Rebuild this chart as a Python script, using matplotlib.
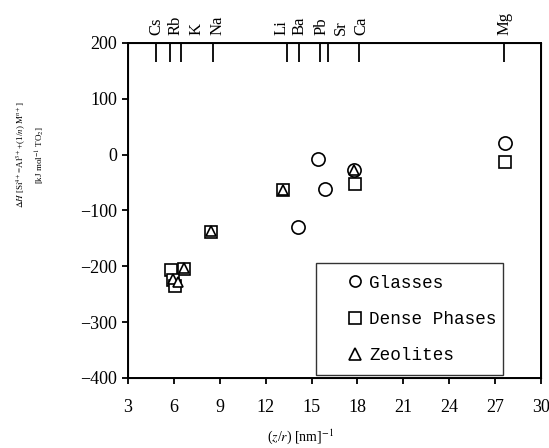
import matplotlib
matplotlib.use("Agg")
import matplotlib.pyplot as plt

plt.rcParams["font.family"] = ["Liberation Serif", "DejaVu Serif"]
plt.rcParams["mathtext.fontset"] = "stix"

# cation positions on the top axis (tick) and where their names sit
ions = ["Cs", "Rb", "K", "Na", "Li", "Ba", "Pb", "Sr", "Ca", "Mg"]
ion_x = [4.81, 5.77, 6.44, 8.55, 13.39, 14.18, 15.52, 16.06, 18.07, 27.6]
ion_label_x = [4.84, 6.09, 7.46, 8.86, 13.06, 14.21, 15.68, 16.93, 18.23, 27.62]

# enthalpy data
glass_x = [14.1, 15.45, 15.85, 17.8, 27.65]
glass_y = [-130, -7, -62, -27, 20]
dense_x = [5.8, 6.65, 5.95, 6.1, 8.45, 13.1, 17.85, 27.65]
dense_y = [-207, -205, -225, -235, -139, -63, -52, -13]
zeo_x = [6.65, 5.95, 6.25, 8.45, 13.1, 17.8]
zeo_y = [-203, -223, -228, -136, -63, -28]

xticks = [3, 6, 9, 12, 15, 18, 21, 24, 27, 30]
yticks = [-400, -300, -200, -100, 0, 100, 200]

fig = plt.figure(figsize=(5.49, 4.48), dpi=100)
ax = fig.add_axes([0.2332, 0.1563, 0.7523, 0.7478])

mk = dict(linestyle="none", markerfacecolor="white", markeredgecolor="black",
          markeredgewidth=1.2)
ax.plot(glass_x, glass_y, marker="o", markersize=9.5, label="Glasses", **mk)
ax.plot(dense_x, dense_y, marker="s", markersize=9, label="Dense Phases", **mk)
ax.plot(zeo_x, zeo_y, marker="^", markersize=7, label="Zeolites", **mk)

ax.set_xlim(3, 30)
ax.set_ylim(-400, 200)
ax.set_xticks(xticks)
ax.set_yticks(yticks)
ax.set_yticklabels([f"{v:d}".replace("-", "\u2212") for v in yticks])
ax.tick_params(direction="out", length=4, width=1.3, labelsize=13)
ax.tick_params(axis="x", pad=11)
ax.tick_params(axis="y", pad=4)
for s in ax.spines.values():
    s.set_linewidth(1.4)

ax.set_xlabel(r"($z$/$r$) [nm]$^{-1}$", fontsize=10)
ax.xaxis.set_label_coords(0.417, -0.148)
ax.set_ylabel("$\\Delta H$ [Si$^{4+}$=Al$^{3+}$+(1/$n$) M$^{n+}$]\n"
              "[kJ mol$^{-1}$ TO$_2$]", fontsize=6.5, linespacing=1.6)
ax.yaxis.set_label_coords(-0.196, 0.666)

top = ax.twiny()
top.set_xlim(ax.get_xlim())
top.set_xticks(ion_x)
top.set_xticklabels([])
top.tick_params(direction="in", length=14, width=1.3)
for name, lx in zip(ions, ion_label_x):
    ax.annotate(name, xy=(lx, 1), xycoords=("data", "axes fraction"),
                xytext=(0, 6), textcoords="offset points", rotation=90,
                ha="center", va="bottom", fontsize=12)

leg = ax.legend(loc="upper left", bbox_to_anchor=(0.454, 0.018, 0.453, 0.324),
                mode="expand", borderaxespad=0,
                prop={"family": "Liberation Mono", "size": 12.7},
                frameon=True, fancybox=False, edgecolor="black",
                handlelength=3.26, handletextpad=-0.86, labelspacing=1.1,
                borderpad=0.63)
leg.get_frame().set_linewidth(1.0)
for h in leg.legend_handles:
    h.set_markersize(8)

fig.savefig("out.png", dpi=100)
